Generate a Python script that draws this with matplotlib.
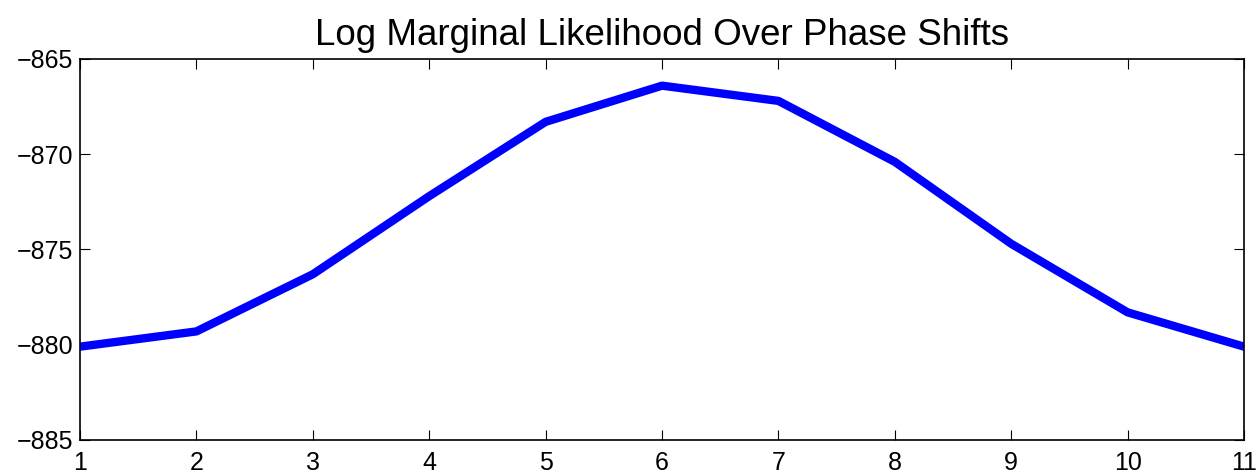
import matplotlib.pyplot as plt

# log marginal likelihood for each phase shift
deslocamentos = [1, 2, 3, 4, 5, 6, 7, 8, 9, 10, 11]
log_verossimilhanca = [-880.1, -879.3, -876.3, -872.2, -868.3, -866.4,
                       -867.2, -870.4, -874.7, -878.3, -880.1]

plt.rcParams['font.family'] = ['Liberation Sans', 'DejaVu Sans']

fig = plt.figure(figsize=(12.58, 4.75), dpi=100)
eixo = fig.add_axes([0.0636, 0.0737, 0.9253, 0.8021])
eixo.plot(deslocamentos, log_verossimilhanca, color='#0000ff', linewidth=6)

eixo.set_xlim(1, 11)
eixo.set_ylim(-885, -865)
eixo.set_xticks(range(1, 12))
eixo.set_yticks(range(-885, -864, 5))
eixo.tick_params(direction='in', top=True, right=True, labelsize=18,
                 length=7, width=0.8, pad=5)
eixo.tick_params(axis='x', pad=8)
for s in eixo.spines.values():
    s.set_linewidth(1.2)
eixo.set_title("Log Marginal Likelihood Over Phase Shifts", fontsize=26.5, pad=10)

fig.savefig('out.png', dpi=100)
